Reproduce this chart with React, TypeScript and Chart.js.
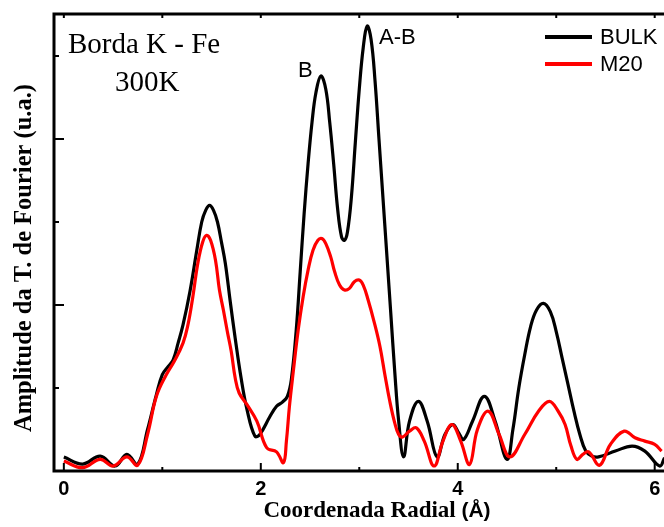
import React, { useEffect, useRef } from "react";
import { Chart, registerables } from "chart.js";

Chart.register(...registerables);

// Radial distance (Å) and FT amplitude (a.u.) for each sample
const bulkR = [0, 0.19, 0.37, 0.52, 0.64, 0.75, 0.85, 0.94, 1.0, 1.06, 1.11, 1.16, 1.21, 1.28, 1.35, 1.4, 1.44, 1.48, 1.52, 1.56, 1.6, 1.64, 1.69, 1.74, 1.8, 1.86, 1.94, 1.99, 2.09, 2.16, 2.22, 2.27, 2.31, 2.36, 2.4, 2.44, 2.48, 2.52, 2.56, 2.61, 2.66, 2.7, 2.74, 2.78, 2.82, 2.85, 2.88, 2.92, 2.96, 3.0, 3.04, 3.08, 3.12, 3.16, 3.2, 3.24, 3.28, 3.32, 3.36, 3.4, 3.45, 3.51, 3.6, 3.69, 3.79, 3.87, 3.95, 4.01, 4.06, 4.15, 4.27, 4.38, 4.5, 4.56, 4.62, 4.68, 4.74, 4.8, 4.87, 4.94, 5.0, 5.06, 5.12, 5.18, 5.24, 5.3, 5.36, 5.43, 5.6, 5.77, 5.9, 6.05, 6.1];
const bulkAmp = [0.084, 0.042, 0.09, 0.03, 0.1, 0.04, 0.25, 0.46, 0.58, 0.63, 0.67, 0.77, 0.88, 1.08, 1.33, 1.5, 1.57, 1.6, 1.57, 1.5, 1.38, 1.25, 1.02, 0.8, 0.56, 0.37, 0.21, 0.22, 0.325, 0.39, 0.415, 0.45, 0.55, 0.85, 1.2, 1.55, 1.85, 2.1, 2.28, 2.38, 2.3, 2.1, 1.85, 1.58, 1.41, 1.39, 1.44, 1.65, 1.98, 2.3, 2.55, 2.68, 2.6, 2.35, 2.0, 1.65, 1.3, 0.95, 0.6, 0.3, 0.085, 0.3, 0.42, 0.3, 0.085, 0.22, 0.28, 0.23, 0.19, 0.3, 0.45, 0.3, 0.07, 0.25, 0.5, 0.7, 0.87, 0.97, 1.01, 0.96, 0.84, 0.68, 0.52, 0.36, 0.22, 0.12, 0.09, 0.085, 0.12, 0.15, 0.12, 0.03, 0.08];

const m20R = [0, 0.19, 0.37, 0.5, 0.64, 0.75, 0.85, 0.94, 1.04, 1.12, 1.21, 1.26, 1.31, 1.36, 1.41, 1.45, 1.49, 1.54, 1.58, 1.62, 1.66, 1.7, 1.74, 1.78, 1.86, 1.96, 2.06, 2.16, 2.23, 2.26, 2.29, 2.33, 2.38, 2.43, 2.48, 2.53, 2.58, 2.62, 2.66, 2.71, 2.75, 2.8, 2.85, 2.9, 2.95, 3.0, 3.04, 3.09, 3.15, 3.21, 3.26, 3.31, 3.36, 3.4, 3.44, 3.51, 3.58, 3.66, 3.76, 3.85, 3.94, 4.03, 4.12, 4.2, 4.31, 4.42, 4.53, 4.68, 4.82, 4.93, 5.02, 5.09, 5.15, 5.21, 5.27, 5.33, 5.44, 5.55, 5.69, 5.8, 5.9, 6.0, 6.07];
const m20Amp = [0.06, 0.02, 0.07, 0.03, 0.085, 0.035, 0.22, 0.45, 0.58, 0.66, 0.77, 0.88, 1.05, 1.25, 1.38, 1.42, 1.39, 1.27, 1.09, 0.97, 0.84, 0.72, 0.56, 0.47, 0.4, 0.3, 0.14, 0.115, 0.05, 0.18, 0.385, 0.6, 0.85, 1.05, 1.21, 1.33, 1.39, 1.4, 1.37, 1.29, 1.2, 1.12, 1.09, 1.1, 1.14, 1.15, 1.12, 1.03, 0.9, 0.75, 0.58, 0.42, 0.29, 0.22, 0.205, 0.24, 0.26, 0.18, 0.03, 0.18, 0.28, 0.18, 0.04, 0.25, 0.36, 0.22, 0.085, 0.22, 0.36, 0.42, 0.36, 0.28, 0.15, 0.07, 0.1, 0.115, 0.035, 0.16, 0.24, 0.2, 0.18, 0.16, 0.12];

const xTickValues = [0, 1, 2, 3, 4, 5, 6];
const xTickLabels = ["0", "", "2", "", "4", "", "6"];
const yTickValues = [0.5, 1, 1.5, 2, 2.5];

const seriesNames = ["BULK", "M20"];
const seriesColors = ["#000000", "#ff0000"];

const decorPlugin = {
  id: "decor",
  afterDraw(chart: any) {
    const ctx = chart.ctx;
    const area = chart.chartArea;
    const xs = chart.scales.x;
    const ys = chart.scales.y;
    ctx.save();
    ctx.strokeStyle = "#000";
    ctx.lineWidth = 3;
    ctx.lineCap = "butt";
    // frame
    ctx.beginPath();
    ctx.moveTo(area.left, area.top);
    ctx.lineTo(area.left, area.bottom);
    ctx.moveTo(area.left - 1.5, area.bottom);
    ctx.lineTo(area.right, area.bottom);
    ctx.moveTo(area.left - 1.5, area.top);
    ctx.lineTo(area.right, area.top);
    ctx.stroke();
    // ticks
    ctx.lineWidth = 2;
    ctx.beginPath();
    xTickValues.forEach((v) => {
      const px = xs.getPixelForValue(v);
      const len = v % 2 === 0 ? 8 : 4;
      ctx.moveTo(px, area.bottom);
      ctx.lineTo(px, area.bottom - len);
      ctx.moveTo(px, area.top);
      ctx.lineTo(px, area.top + 4);
    });
    yTickValues.forEach((v) => {
      const py = ys.getPixelForValue(v);
      const len = Number.isInteger(v) ? 10 : 5;
      ctx.moveTo(area.left, py);
      ctx.lineTo(area.left + len, py);
    });
    ctx.stroke();

    ctx.fillStyle = "#000";
    // y title
    ctx.save();
    ctx.translate(25, 258);
    ctx.rotate(-Math.PI / 2);
    ctx.font = "bold 24.5px 'Liberation Serif'";
    ctx.textAlign = "center";
    ctx.textBaseline = "middle";
    ctx.fillText("Amplitude da T. de Fourier (u.a.)", 0, 0);
    ctx.restore();

    // x title
    const part1 = "Coordenada Radial ";
    const part2 = "(Å)";
    ctx.font = "bold 23px 'Liberation Serif'";
    const w1 = ctx.measureText(part1).width;
    ctx.font = "bold 21px 'Liberation Sans'";
    const w2 = ctx.measureText(part2).width;
    const start = 377 - (w1 + w2) / 2;
    ctx.textAlign = "left";
    ctx.textBaseline = "alphabetic";
    ctx.font = "bold 23px 'Liberation Serif'";
    ctx.fillText(part1, start, 517);
    ctx.font = "bold 21px 'Liberation Sans'";
    ctx.fillText(part2, start + w1, 517);

    // annotations
    ctx.font = "29px 'Liberation Serif'";
    ctx.fillText("Borda K - Fe", 68, 53);
    ctx.fillText("300K", 115, 91);
    ctx.font = "22px 'Liberation Sans'";
    ctx.fillText("A-B", 379, 44);
    ctx.fillText("B", 298, 77);

    // legend
    const legendY = [37, 64];
    seriesNames.forEach((name, i) => {
      ctx.strokeStyle = seriesColors[i];
      ctx.lineWidth = 4;
      ctx.beginPath();
      ctx.moveTo(545, legendY[i]);
      ctx.lineTo(592, legendY[i]);
      ctx.stroke();
      ctx.fillStyle = "#000";
      ctx.font = "22px 'Liberation Sans'";
      ctx.textBaseline = "middle";
      ctx.fillText(name, 600, legendY[i] + 1);
    });
    ctx.restore();
  },
};

export default function App() {
  const ref = useRef<HTMLCanvasElement>(null);
  useEffect(() => {
    if (!ref.current) return;
    const chart = new Chart(ref.current, {
      type: "line",
      data: {
        datasets: [
          {
            label: seriesNames[0],
            data: bulkR.map((r, i) => ({ x: r, y: bulkAmp[i] })),
            borderColor: seriesColors[0],
            borderWidth: 3.2,
            pointRadius: 0,
            tension: 0.4,
            fill: false,
            order: 1,
          },
          {
            label: seriesNames[1],
            data: m20R.map((r, i) => ({ x: r, y: m20Amp[i] })),
            borderColor: seriesColors[1],
            borderWidth: 3.2,
            pointRadius: 0,
            tension: 0.4,
            fill: false,
            order: 0,
          },
        ],
      },
      options: {
        animation: false,
        responsive: false,
        maintainAspectRatio: false,
        layout: { padding: { left: 54, top: 14, right: 0, bottom: 0 } },
        plugins: { legend: { display: false }, tooltip: { enabled: false } },
        scales: {
          x: {
            type: "linear",
            min: -0.1,
            max: 6.46,
            grid: { display: false, drawTicks: false },
            border: { display: false },
            afterBuildTicks: (s: any) => {
              s.ticks = xTickValues.map((v) => ({ value: v }));
            },
            afterFit: (s: any) => {
              s.height = 56;
            },
            ticks: {
              autoSkip: false,
              maxRotation: 0,
              padding: 6,
              color: "#000",
              font: { family: "'Liberation Sans'", size: 20, weight: "bold" },
              callback: (v: any) => {
                const i = xTickValues.indexOf(Number(v));
                return i >= 0 ? xTickLabels[i] : "";
              },
            },
          },
          y: {
            type: "linear",
            min: 0,
            max: 2.753,
            display: false,
          },
        },
      },
      plugins: [decorPlugin],
    } as any);
    return () => chart.destroy();
  }, []);
  return (
    <div style={{ position: "fixed", left: 0, top: 0, width: 664, height: 527, overflow: "hidden", background: "#fff" }}>
      <canvas ref={ref} width={700} height={527} style={{ display: "block", width: 700, height: 527 }} />
    </div>
  );
}
